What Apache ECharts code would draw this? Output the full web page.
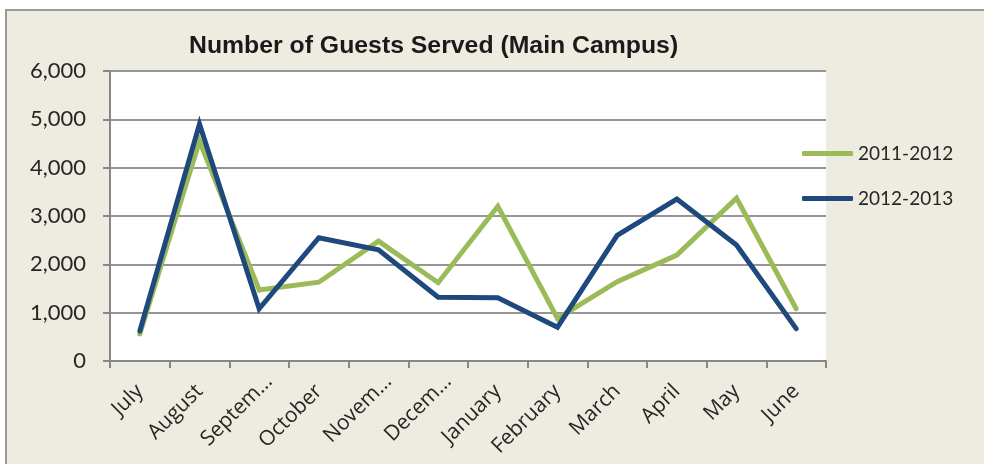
<!DOCTYPE html>
<html>
<head>
<meta charset="utf-8">
<script src="https://cdn.jsdelivr.net/npm/echarts@6/dist/echarts.min.js"></script>
<style>
  html, body { margin: 0; padding: 0; background: #ffffff; }
  #frame { position: absolute; left: 5px; top: 9px; width: 990px; height: 470px;
           background: #EEECE1; border: 2px solid #9a9a9a; box-sizing: border-box; }
  #chart { position: absolute; left: 0; top: 0; width: 984px; height: 464px; }
</style>
</head>
<body>
<div id="frame"></div>
<div id="chart"></div>
<script>
const titleText = "Number of Guests Served (Main Campus)";
const months = ["July", "August", "Septem…", "October", "Novem…", "Decem…", "January", "February", "March", "April", "May", "June"];
const seriesNames = ["2011-2012", "2012-2013"];
const guests2011 = [560, 4550, 1470, 1630, 2480, 1620, 3200, 880, 1640, 2190, 3370, 1080];
const guests2012 = [620, 4900, 1080, 2550, 2300, 1320, 1310, 700, 2600, 3350, 2400, 670];
const yTicks = { min: 0, max: 6000, interval: 1000 };

// truncated labels sit a little further along in the original rendering
const categoryData = months.map(m => m.endsWith('…')
  ? { value: m, textStyle: { padding: [14, -14, 0, 0] } }
  : m);

const chart = echarts.init(document.getElementById('chart'));
const gridColor = '#959595';
chart.setOption({
  backgroundColor: 'transparent',
  animation: false,
  title: {
    text: titleText,
    left: 184, top: 29,
    textStyle: { fontFamily: 'Liberation Sans', fontWeight: 'bold', fontSize: 24.8, color: '#1a1a1a' }
  },
  legend: {
    orient: 'vertical',
    left: 802, top: 143, padding: 0,
    itemWidth: 51, itemHeight: 5, itemGap: 24,
    icon: 'roundRect',
    textStyle: { fontFamily: 'Lato', fontSize: 19, color: '#262626', lineHeight: 21 },
    data: seriesNames
  },
  grid: {
    left: 110, right: 158, top: 71, bottom: 103,
    show: true, backgroundColor: '#ffffff', borderWidth: 0
  },
  xAxis: {
    type: 'category',
    data: categoryData,
    boundaryGap: true,
    axisLine: { lineStyle: { color: '#878787', width: 2 } },
    axisTick: { show: true, length: 7, alignWithLabel: false, lineStyle: { color: '#878787', width: 2 } },
    axisLabel: { rotate: 45, margin: 27, interval: 0, fontFamily: 'Open Sans', fontSize: 21, color: '#262626' }
  },
  yAxis: {
    type: 'value',
    min: yTicks.min, max: yTicks.max, interval: yTicks.interval,
    axisLine: { show: true, lineStyle: { color: '#878787', width: 2 } },
    axisTick: { show: true, length: 7, lineStyle: { color: '#878787', width: 2 } },
    splitLine: { lineStyle: { color: gridColor, width: 2 } },
    axisLabel: {
      margin: 24, fontFamily: 'Lato', fontSize: 22, color: '#262626',
      formatter: v => v.toLocaleString('en-US')
    }
  },
  series: [
    {
      name: seriesNames[0], type: 'line', data: guests2011,
      symbol: 'none', color: '#9BBB59',
      lineStyle: { width: 5, color: '#9BBB59', cap: 'round', join: 'miter' }
    },
    {
      name: seriesNames[1], type: 'line', data: guests2012,
      symbol: 'none', color: '#1F497D',
      lineStyle: { width: 5, color: '#1F497D', cap: 'round', join: 'miter' }
    }
  ]
});
</script>
</body>
</html>
